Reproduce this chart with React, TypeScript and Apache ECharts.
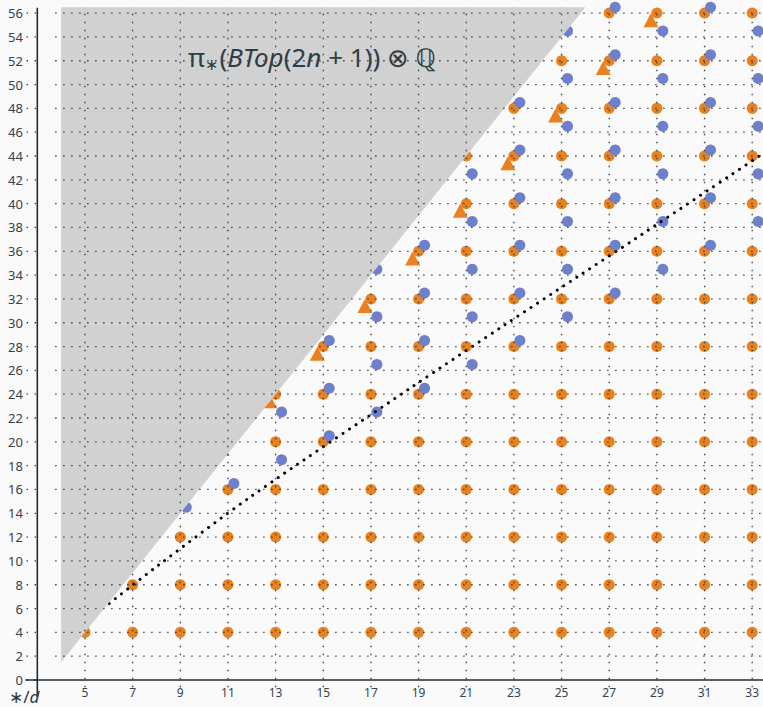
import React, { useEffect, useRef } from 'react';
import * as echarts from 'echarts';

// ---- tick labels ----
const xTicks = [5, 7, 9, 11, 13, 15, 17, 19, 21, 23, 25, 27, 29, 31, 33];
const yTicks = [0, 2, 4, 6, 8, 10, 12, 14, 16, 18, 20, 22, 24, 26, 28, 30, 32, 34, 36, 38, 40, 42, 44, 46, 48, 50, 52, 54, 56];

// ---- orange circles: every odd column at these degrees ----
const orangeXs = [5, 7, 9, 11, 13, 15, 17, 19, 21, 23, 25, 27, 29, 31, 33];
const orangeYs = [4, 8, 12, 16, 20, 24, 28, 32, 36, 40, 44, 48, 52, 56];

// ---- blue circles: column position and the degrees in each column ----
const blueXs = [9.25, 11.25, 13.25, 15.25, 17.25, 19.25, 21.25, 23.25, 25.25, 27.25, 29.25, 31.25, 33.25];
const blueYs = [
  [14.5],
  [16.5],
  [18.5, 22.5],
  [20.5, 24.5, 28.5],
  [22.5, 26.5, 30.5, 34.5],
  [24.5, 28.5, 32.5, 36.5],
  [26.5, 30.5, 34.5, 38.5, 42.5],
  [28.5, 32.5, 36.5, 40.5, 44.5, 48.5],
  [30.5, 34.5, 38.5, 42.5, 46.5, 50.5, 54.5],
  [32.5, 36.5, 40.5, 44.5, 48.5, 52.5, 56.5],
  [34.5, 38.5, 42.5, 46.5, 50.5, 54.5],
  [36.5, 40.5, 44.5, 48.5, 52.5, 56.5],
  [38.5, 42.5, 46.5, 50.5, 54.5],
];

// ---- orange triangles ----
const triangleXs = [10.75, 12.75, 14.75, 16.75, 18.75, 20.75, 22.75, 24.75, 26.75, 28.75];
const triangleYs = [19.4, 23.4, 27.4, 31.4, 35.4, 39.4, 43.4, 47.4, 51.4, 55.4];

// ---- dotted reference curve ----
const curveXs = [6.02, 8.03, 12.04, 18.71, 22.63, 25.74, 28.11, 33.45];
const curveYs = [6.43, 9.56, 15.51, 24.59, 29.84, 33.95, 37.07, 44.2];

// ---- gray excluded region ----
const grayXs = [4, 26.0, 4];
const grayYs = [1.5, 56.5, 56.5];

const X_MIN = 2.5;
const X_MAX = 33.453;
const Y_MIN = 0;
const Y_MAX = 57.1;

const TEXT = '#34434d';
const FONT = '"Noto Sans", "DejaVu Sans", sans-serif';

export default function App() {
  const ref = useRef<HTMLDivElement>(null);

  useEffect(() => {
    document.body.style.margin = '0';
    document.body.style.background = '#fafafa';
    const chart = echarts.init(ref.current!, null, { renderer: 'svg' });

    const orangeData: number[][] = [];
    orangeXs.forEach((x) => orangeYs.forEach((y) => orangeData.push([x, y])));
    const blueData: number[][] = [];
    blueXs.forEach((x, i) => blueYs[i].forEach((y) => blueData.push([x, y])));
    const triData = triangleXs.map((x, i) => [x, triangleYs[i]]);
    const curveData = curveXs.map((x, i) => [x, curveYs[i]]);

    // segments: [x1, y1, x2, y2, kind]  kind 0 = grid dots, 1 = axis line
    const segs: number[][] = [];
    yTicks.forEach((y) => {
      if (y !== 0) segs.push([3.75, y, X_MAX, y, 0]);
      segs.push([2.55, y, 2.98, y, 0]);
    });
    xTicks.forEach((x) => segs.push([x, -0.6, x, 56.35, 0]));
    segs.push([3, -1.4, 3, 56.45, 1]);
    segs.push([X_MIN, 0, X_MAX, 0, 1]);

    const option: any = {
      animation: false,
      backgroundColor: '#fafafa',
      grid: { left: 25.4, top: 0, width: 737.6, height: 680, outerBoundsMode: 'none' },
      xAxis: {
        type: 'value',
        min: X_MIN,
        max: X_MAX,
        axisLine: { show: false },
        axisTick: { show: false },
        splitLine: { show: false },
        axisLabel: { customValues: xTicks, margin: 6, fontSize: 12, color: TEXT, fontFamily: FONT },
      },
      yAxis: {
        type: 'value',
        min: Y_MIN,
        max: Y_MAX,
        axisLine: { show: false },
        axisTick: { show: false },
        splitLine: { show: false },
        axisLabel: { customValues: yTicks, margin: 2.5, fontSize: 13, color: TEXT, fontFamily: FONT },
      },
      graphic: [
        {
          type: 'text',
          left: 188,
          top: 44,
          z: 100,
          style: {
            text: '{n|π}{s|∗}{n|(}{i|BTop}{n|(2}{i|n}{n| + 1)) ⊗ ℚ}',
            rich: {
              n: { fontSize: 26, fontFamily: FONT, fill: '#2e3d47' },
              i: { fontSize: 26, fontFamily: FONT, fontStyle: 'italic', fill: '#2e3d47' },
              s: { fontSize: 16, fontFamily: FONT, fill: '#2e3d47', padding: [14, 1, 0, 0] },
            },
          },
        },
        {
          type: 'text',
          left: 9,
          top: 688,
          z: 100,
          style: {
            text: '{n|∗/}{i|d}',
            rich: {
              n: { fontSize: 17, fontFamily: FONT, fill: '#2e3d47' },
              i: { fontSize: 17, fontFamily: FONT, fontStyle: 'italic', fill: '#2e3d47' },
            },
          },
        },
      ],
      series: [
        {
          type: 'scatter',
          name: 'orange',
          data: orangeData,
          symbol: 'circle',
          symbolSize: 11,
          itemStyle: { color: '#e9811f', opacity: 1 },
          silent: true,
          clip: false,
          z: 2,
        },
        {
          type: 'scatter',
          name: 'triangles',
          data: triData,
          symbol: 'triangle',
          symbolSize: [15, 14],
          itemStyle: { color: '#e9811f', opacity: 1 },
          silent: true,
          clip: false,
          z: 2,
        },
        {
          type: 'scatter',
          name: 'blue',
          data: blueData,
          symbol: 'circle',
          symbolSize: 11,
          itemStyle: { color: '#6e7fcb', opacity: 1 },
          silent: true,
          clip: false,
          z: 3,
        },
        {
          type: 'line',
          data: curveData,
          smooth: 0.3,
          symbol: 'none',
          silent: true,
          lineStyle: { color: '#000', width: 3, type: [0.01, 7.8], cap: 'round' },
          z: 4,
        },
        {
          type: 'custom',
          data: [[grayXs[0], grayYs[0]]],
          silent: true,
          z: 5,
          renderItem: (params: any, api: any) => {
            const pts = grayXs.map((x, i) => api.coord([x, grayYs[i]]));
            return { type: 'polygon', shape: { points: pts }, style: { fill: '#d1d1d1' } };
          },
        },
        {
          type: 'custom',
          data: segs,
          silent: true,
          z: 10,
          encode: { x: [0, 2], y: [1, 3] },
          renderItem: (params: any, api: any) => {
            const p1 = api.coord([api.value(0), api.value(1)]);
            const p2 = api.coord([api.value(2), api.value(3)]);
            const kind = api.value(4);
            return {
              type: 'line',
              shape: { x1: p1[0], y1: p1[1], x2: p2[0], y2: p2[1] },
              style:
                kind === 1
                  ? { stroke: '#1d2b34', lineWidth: 1.6 }
                  : { stroke: '#3a3a3a', lineWidth: 1.3, lineDash: [1.4, 6.6] },
            };
          },
        },
      ],
    };

    chart.setOption(option);
    return () => chart.dispose();
  }, []);

  return (
    <div
      ref={ref}
      style={{ position: 'fixed', left: 0, top: 0, width: 763, height: 707, background: '#fafafa' }}
    />
  );
}
